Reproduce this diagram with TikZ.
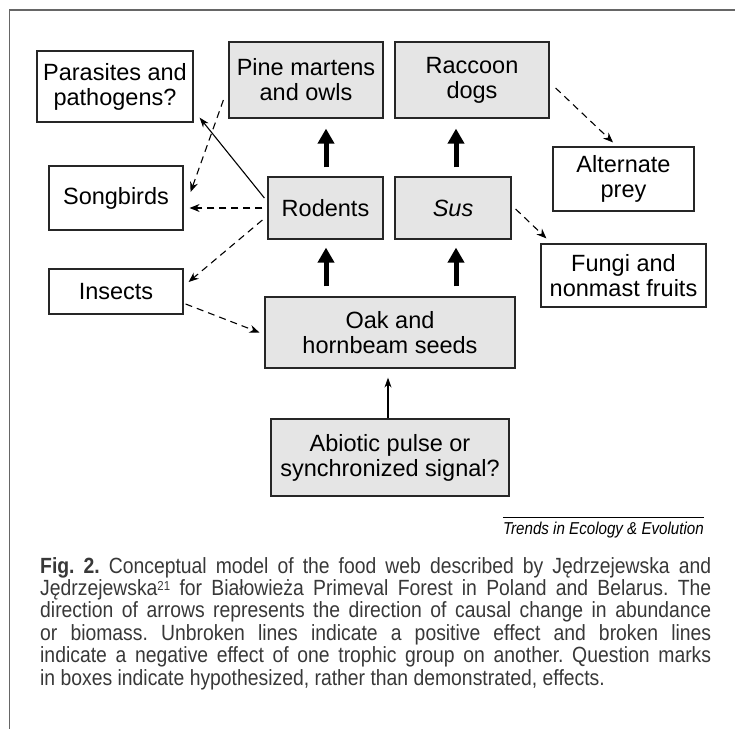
\documentclass[tikz,border=0pt]{standalone}
\usepackage{fontspec}
\setmainfont{Liberation Sans}
\newfontfamily\capfont[FakeStretch=0.88]{Liberation Sans}
\usetikzlibrary{arrows.meta,calc}
\tikzset{
  box/.style={draw=black!85, line width=1.2pt, align=center, inner sep=0pt,
    font=\fontsize{23.5}{25}\selectfont, fill=white},
  gbox/.style={box, fill=black!10},
  blockarrow/.style={line width=5pt, -{Triangle[length=15pt,width=16pt]}},
  posarrow/.style={line width=1.1pt, -{Stealth[length=10pt,width=7pt]}},
  negarrow/.style={line width=1.1pt, dash pattern=on 7pt off 5pt, -{Stealth[length=10pt,width=8pt]}},
}
\newcommand{\refsup}[1]{\raisebox{5.5pt}{\fontsize{13}{13}\selectfont #1}}
\begin{document}
\begin{tikzpicture}[x=1pt,y=-1pt]
\useasboundingbox (0,0) rectangle (735,728);
\draw[black!60, line width=1.5pt] (9.5,730) -- (9.5,10) -- (737,10);

\node[box,  minimum width=156pt, minimum height=71pt] (par)   at (115,86.5)  {Parasites and\\pathogens?};
\node[gbox, minimum width=154pt, minimum height=76pt] (pine)  at (306,80)    {Pine martens\\and owls};
\node[gbox, minimum width=154pt, minimum height=76pt] (rac)   at (472,80)    {Raccoon\\dogs};
\node[box,  minimum width=141pt, minimum height=64pt] (alt)   at (623.5,179) {Alternate\\prey};
\node[box,  minimum width=134pt, minimum height=64pt] (song)  at (116,198)   {Songbirds};
\node[gbox, minimum width=115pt, minimum height=62pt] (rod)   at (325.5,208) {Rodents};
\node[gbox, minimum width=116pt, minimum height=62pt] (sus)   at (453,208)   {\itshape Sus};
\node[box,  minimum width=165pt, minimum height=63pt] (fungi) at (623.5,275.5) {Fungi and\\nonmast fruits};
\node[box,  minimum width=134pt, minimum height=45pt] (ins)   at (116,291.5) {Insects};
\node[gbox, minimum width=250pt, minimum height=71pt] (oak)   at (390,332.5) {Oak and\\hornbeam seeds};
\node[gbox, minimum width=238pt, minimum height=77pt] (abi)   at (390,457.5) {Abiotic pulse or\\synchronized signal?};

% thick arrows
\draw[blockarrow] ($(rod.north)+(0.5,-9)$) -- ($(rod.north |- pine.south)+(0.5,10)$);
\draw[blockarrow] ($(rod.north |- oak.north)+(0.5,-10)$) -- ($(rod.south)+(0.5,8)$);
\draw[blockarrow] ($(sus.north)+(3,-9)$) -- ($(sus.north |- rac.south)+(3,10)$);
\draw[blockarrow] ($(sus.north |- oak.north)+(3,-10)$) -- ($(sus.south)+(3,8)$);

% thin solid arrows
\draw[posarrow] ($(abi.north)+(-2,0)$) -- ($(abi.north |- oak.south)+(-2,9)$);
\draw[posarrow] ($(rod.west)+(-3,-10)$) -- ($(par.south east)+(6,-5)$);

% dashed arrows
\draw[negarrow] ($(pine.west)+(-5,20)$) -- ($(song.east)+(7,-6)$);
\draw[negarrow] ($(rod.west)+(-5,0)$) -- ($(song.east)+(6,10)$);
\draw[negarrow] ($(rod.west)+(-5,12)$) -- ($(ins.east)+(5,-9.5)$);
\draw[negarrow] ($(ins.east)+(2,12.5)$) -- ($(oak.west)+(-5,0)$);
\draw[negarrow] ($(rac.east)+(6,8)$) -- ($(alt.north)+(-10.5,-4)$);
\draw[negarrow] ($(sus.east)+(4,1)$) -- ($(fungi.north west)+(6,-5)$);

% source line
\node[anchor=base east, inner sep=0pt, font=\capfont\fontsize{17.2}{18}\selectfont\itshape] (trends) at (704,534) {Trends in Ecology \& Evolution};
\draw[line width=0.9pt] ($(trends.north west)+(0,-4)$) -- ($(trends.north east)+(0,-4)$);

% caption
\node[anchor=north west, inner sep=0pt, text width=671pt, align=justify,
  font=\capfont\fontsize{22}{22.4}\selectfont\frenchspacing, text=black!78] (cap) at (40,557)
{\textbf{Fig. 2.} Conceptual model of the food web described by Jędrzejewska and\linebreak
Jędrzejewska\refsup{21} for Białowieża Primeval Forest in Poland and Belarus. The\linebreak
direction of arrows represents the direction of causal change in abundance\linebreak
or biomass. Unbroken lines indicate a positive effect and broken lines\linebreak
indicate a negative effect of one trophic group on another. Question marks\linebreak
in boxes indicate hypothesized, rather than demonstrated, effects.};
\end{tikzpicture}
\end{document}
